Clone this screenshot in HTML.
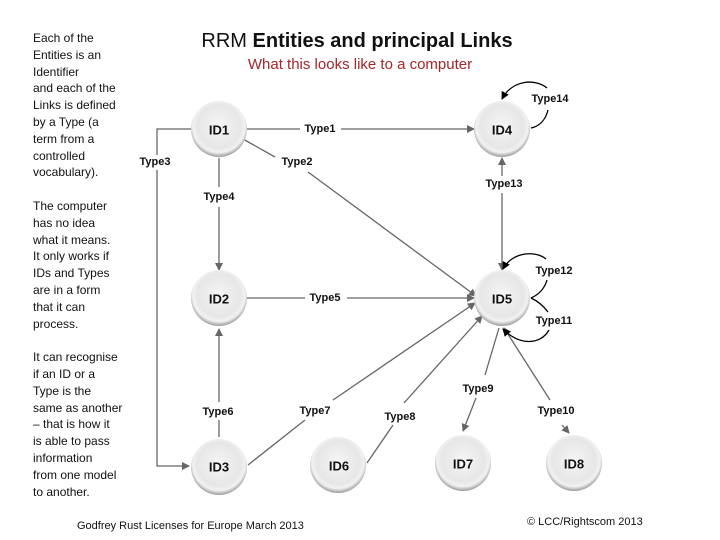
<!DOCTYPE html>
<html><head><meta charset="utf-8"><style>
html,body{margin:0;padding:0;background:#fff;}
svg{display:block;}
.l{font-family:"Liberation Sans",sans-serif;font-size:12px;fill:#111;}
.t{font-family:"Liberation Sans",sans-serif;font-size:11px;font-weight:bold;fill:#111;text-anchor:middle;dominant-baseline:central;}
.n{font-family:"Liberation Sans",sans-serif;font-size:13px;font-weight:bold;fill:#111;text-anchor:middle;dominant-baseline:central;}
</style></head><body>
<svg width="720" height="540" viewBox="0 0 720 540">
<defs>
<radialGradient id="g" cx="50%" cy="45%" r="55%">
<stop offset="0" stop-color="#f6f6f6"/><stop offset="0.7" stop-color="#e6e6e6"/><stop offset="0.85" stop-color="#f2f2f2"/><stop offset="1" stop-color="#9a9a9a"/>
</radialGradient>
<marker id="a" markerWidth="8" markerHeight="8" refX="7" refY="4" orient="auto" markerUnits="userSpaceOnUse"><path d="M0,0 L8,4 L0,8 z" fill="#666"/></marker>
<marker id="b" markerWidth="8" markerHeight="8" refX="7" refY="4" orient="auto" markerUnits="userSpaceOnUse"><path d="M0,0 L8,4 L0,8 z" fill="#000"/></marker>
</defs>
<g class="l">
<text x="33" y="42">Each of the</text><text x="33" y="59">Entities is an</text><text x="33" y="76">Identifier</text><text x="33" y="92">and each of the</text><text x="33" y="109">Links is defined</text><text x="33" y="126">by a Type (a</text><text x="33" y="143">term from a</text><text x="33" y="160">controlled</text><text x="33" y="176">vocabulary).</text>
<text x="33" y="210">The computer</text><text x="33" y="227">has no idea</text><text x="33" y="244">what it means.</text><text x="33" y="260">It only works if</text><text x="33" y="277">IDs and Types</text><text x="33" y="294">are in a form</text><text x="33" y="311">that it can</text><text x="33" y="328">process.</text>
<text x="33" y="361">It can recognise</text><text x="33" y="378">if an ID or a</text><text x="33" y="395">Type is the</text><text x="33" y="412">same as another</text><text x="33" y="428">– that is how it</text><text x="33" y="445">is able to pass</text><text x="33" y="462">information</text><text x="33" y="479">from one model</text><text x="33" y="496">to another.</text>
</g>
<text x="357" y="47" text-anchor="middle" font-family="Liberation Sans,sans-serif" font-size="20" fill="#111">RRM <tspan font-weight="bold">Entities and principal Links</tspan></text>
<text x="360" y="69" text-anchor="middle" font-family="Liberation Sans,sans-serif" font-size="15" fill="#a3262a">What this looks like to a computer</text>
<g stroke="#666" stroke-width="1.3" fill="none">
<path d="M247,129 H300 M341,129 H474" marker-end="url(#a)"/>
<path d="M243,139 L275,157 M308,172 L476,296" marker-end="url(#a)"/>
<path d="M191,129 H157 V155 M157,170 V466 H189" marker-end="url(#a)"/>
<path d="M219,158 V187 M219,207 V270" marker-end="url(#a)"/>
<path d="M247,298 H305 M347,298 H474" marker-end="url(#a)"/>
<path d="M219,437 V420"/><path d="M219,402 V329" marker-end="url(#a)"/>
<path d="M248,465 L305,420"/><path d="M333,400 L475,303" marker-end="url(#a)"/>
<path d="M367,463 L393,425"/><path d="M404,403 L482,316" marker-end="url(#a)"/>
<path d="M499,328 L485,375"/><path d="M476,398 L463,431" marker-end="url(#a)"/>
<path d="M550,400 L504,328" marker-end="url(#a)"/>
<path d="M562,425 L569,433" marker-end="url(#a)"/>
<path d="M502,176 V158" marker-end="url(#a)"/>
<path d="M502,193 V270" marker-end="url(#a)"/>
</g>
<g stroke="#000" stroke-width="1.3" fill="none">
<path d="M531,128 C541,126 546,118 548,110"/>
<path d="M547,88 C535,78 512,80 502,99" marker-end="url(#b)"/>
<path d="M546,259 C535,250 512,252 503,269" marker-end="url(#b)"/>
<path d="M531,298 C540,294 545,287 547,280"/>
<path d="M531,298 C540,302 545,308 548,312"/>
<path d="M549,330 C540,346 518,345 503,329" marker-end="url(#b)"/>
</g>
<g>
<circle cx="219" cy="129" r="28" fill="url(#g)"/>
<circle cx="502" cy="129" r="28" fill="url(#g)"/>
<circle cx="219" cy="298" r="28" fill="url(#g)"/>
<circle cx="502" cy="298" r="28" fill="url(#g)"/>
<circle cx="219" cy="467" r="28" fill="url(#g)"/>
<circle cx="338" cy="465" r="28" fill="url(#g)"/>
<circle cx="463" cy="463" r="28" fill="url(#g)"/>
<circle cx="574" cy="463" r="28" fill="url(#g)"/>
</g>
<text class="n" x="219" y="130">ID1</text><text class="n" x="502" y="130">ID4</text>
<text class="n" x="219" y="299">ID2</text><text class="n" x="502" y="299">ID5</text>
<text class="n" x="219" y="467">ID3</text><text class="n" x="339" y="466">ID6</text>
<text class="n" x="463" y="464">ID7</text><text class="n" x="574" y="464">ID8</text>
<text class="t" x="320" y="129">Type1</text>
<text class="t" x="297" y="162">Type2</text>
<text class="t" x="155" y="162">Type3</text>
<text class="t" x="219" y="197">Type4</text>
<text class="t" x="325" y="298">Type5</text>
<text class="t" x="218" y="412">Type6</text>
<text class="t" x="315" y="411">Type7</text>
<text class="t" x="400" y="417">Type8</text>
<text class="t" x="478" y="389">Type9</text>
<text class="t" x="556" y="411">Type10</text>
<text class="t" x="554" y="321">Type11</text>
<text class="t" x="554" y="271">Type12</text>
<text class="t" x="504" y="184">Type13</text>
<text class="t" x="550" y="99">Type14</text>
<text x="77" y="529" font-family="Liberation Sans,sans-serif" font-size="11" fill="#111">Godfrey Rust Licenses for Europe March 2013</text>
<text x="527" y="525" font-family="Liberation Sans,sans-serif" font-size="11" fill="#111">© LCC/Rightscom 2013</text>
</svg>
</body></html>
